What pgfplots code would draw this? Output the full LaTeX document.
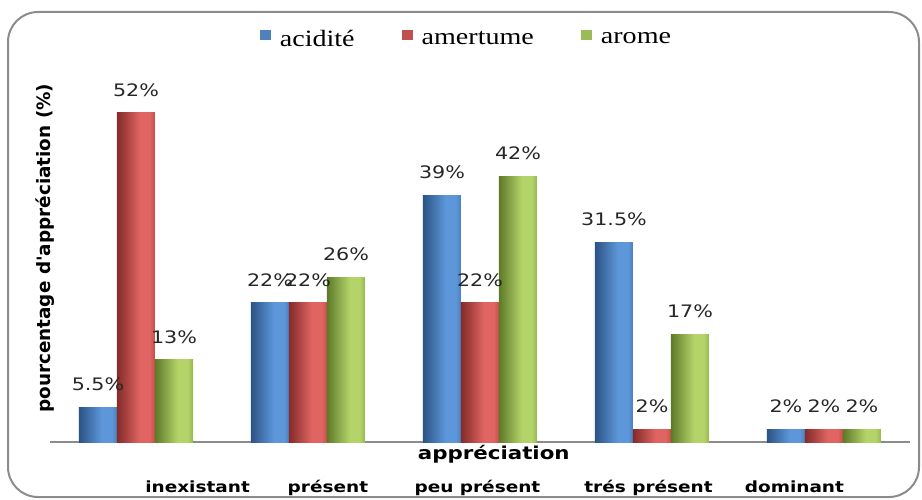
\documentclass[border=0pt]{standalone}
\usepackage{pgfplots}
\pgfplotsset{compat=1.18}
\usepackage{fontspec}
% the chart's lettering is set slightly widened
\setmainfont[FakeStretch=1.2]{DejaVu Sans}
\newfontfamily\legfont[FakeStretch=1.2]{Liberation Serif}
\newfontfamily\ylabfont[Ligatures=TeXOff]{DejaVu Sans}

% bar colours: dark edge, highlight, right edge
\definecolor{bD}{HTML}{2C5385}\definecolor{bL}{HTML}{5D97DA}\definecolor{bR}{HTML}{4A7FC0}
\definecolor{rD}{HTML}{842B29}\definecolor{rL}{HTML}{E06562}\definecolor{rR}{HTML}{C54E4B}
\definecolor{gD}{HTML}{5E7A29}\definecolor{gL}{HTML}{B4D469}\definecolor{gR}{HTML}{94B84B}
\definecolor{bM}{HTML}{4F81BD}\definecolor{rM}{HTML}{C0504D}\definecolor{gM}{HTML}{9BBB59}
\definecolor{frame}{HTML}{8C8C8C}

\pgfdeclarehorizontalshading{bluebar}{100bp}{color(0bp)=(bD); color(25bp)=(bD); color(55bp)=(bL); color(68bp)=(bL); color(75bp)=(bR); color(100bp)=(bR)}
\pgfdeclarehorizontalshading{redbar}{100bp}{color(0bp)=(rD); color(25bp)=(rD); color(55bp)=(rL); color(68bp)=(rL); color(75bp)=(rR); color(100bp)=(rR)}
\pgfdeclarehorizontalshading{greenbar}{100bp}{color(0bp)=(gD); color(25bp)=(gD); color(55bp)=(gL); color(68bp)=(gL); color(75bp)=(gR); color(100bp)=(gR)}

% one shaded bar per call, so each bar gets its own gradient
\newcommand{\onebar}[3]{\addplot[draw=none, shading=#1, bar shift=#2, forget plot] coordinates {#3};}

\begin{document}
\begin{tikzpicture}
\useasboundingbox (-25pt,-28.5pt) rectangle (436pt,221pt);
% rounded chart frame
\draw[frame, line width=1pt, rounded corners=15pt] (-21pt,-27.5pt) rectangle (434.5pt,215pt);
\begin{axis}[
  at={(0,0)}, anchor=south west,
  scale only axis,
  width=430pt, height=190pt,
  xmin=-0.5, xmax=4.5, ymin=0, ymax=60,
  axis x line*=bottom, axis y line*=left,
  x axis line style={frame, line width=0.9pt, -},
  y axis line style={draw=none},
  ytick=\empty,
  ybar=0pt, bar width=19pt,
  xtick={0.358,1.116,1.985,2.98,3.828},
  xticklabels={inexistant, présent, peu présent, trés présent, dominant},
  major tick length=0pt,
  x tick label style={font=\bfseries\fontsize{7.7}{9}\selectfont, anchor=base, inner sep=0pt, yshift=-25pt},
  xlabel={appréciation},
  xlabel style={font=\bfseries\fontsize{8.9}{10}\selectfont, at={(axis description cs:0.516,0)}, anchor=base, inner sep=0pt, yshift=-8.5pt},
  ylabel={pourcentage d'appréciation (\%)},
  ylabel style={font=\ylabfont\bfseries\fontsize{9.2}{11}\selectfont, at={(axis description cs:-0.006,0.51)}, anchor=center, inner sep=0pt},
  /pgf/number format/assume math mode=true,
  nodes near coords={\pgfmathprintnumber{\pgfplotspointmeta}\%},
  every node near coord/.append style={font=\fontsize{8.6}{10}\selectfont, anchor=base, inner sep=0pt, yshift=8.3pt, color=black!85},
  legend image code/.code={\fill[#1] (0pt,0pt) rectangle (5.5pt,5pt);},
  legend columns=3,
  legend style={draw=none, fill=none, at={(axis description cs:0.4831,1.032)}, anchor=south,
    font=\legfont\fontsize{11.7}{13}\selectfont, inner sep=0pt,
    nodes={inner sep=0pt},
    /tikz/every odd column/.append style={column sep=4.5pt},
    /tikz/every even column/.append style={column sep=23.5pt}},
  clip=false,
]
\addlegendimage{draw=none, fill=bM}
\addlegendimage{draw=none, fill=rM}
\addlegendimage{draw=none, fill=gM}
% acidité
\onebar{bluebar}{-19pt}{(0,5.5)}
\onebar{bluebar}{-19pt}{(1,22)}
\onebar{bluebar}{-19pt}{(2,39)}
\onebar{bluebar}{-19pt}{(3,31.5)}
\onebar{bluebar}{-19pt}{(4,2)}
% amertume
\onebar{redbar}{0pt}{(0,52)}
\onebar{redbar}{0pt}{(1,22)}
\onebar{redbar}{0pt}{(2,22)}
\onebar{redbar}{0pt}{(3,2)}
\onebar{redbar}{0pt}{(4,2)}
% arome
\onebar{greenbar}{19pt}{(0,13)}
\onebar{greenbar}{19pt}{(1,26)}
\onebar{greenbar}{19pt}{(2,42)}
\onebar{greenbar}{19pt}{(3,17)}
\onebar{greenbar}{19pt}{(4,2)}
\legend{acidité, amertume, arome}
\end{axis}
\end{tikzpicture}
\end{document}
